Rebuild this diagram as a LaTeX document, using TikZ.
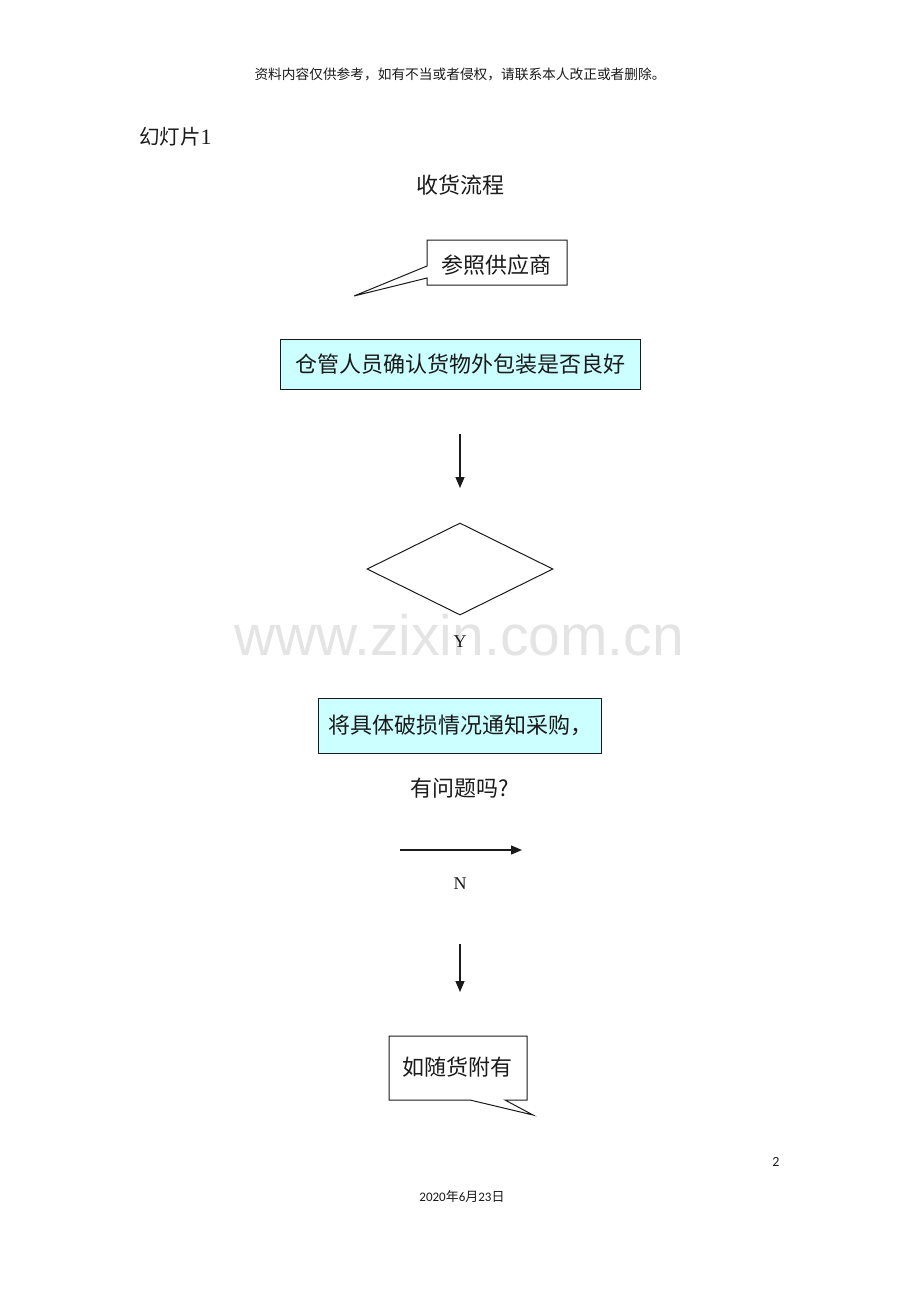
\documentclass[tikz,border=0pt]{standalone}
\usepackage{fontspec}
\setmainfont{Liberation Serif}
\newfontfamily\cjk{Noto Sans CJK SC}
\newfontfamily\wmfont{Liberation Sans}
\newfontfamily\calfont{Carlito}
\usetikzlibrary{shapes.geometric,arrows.meta}
\definecolor{boxcyan}{HTML}{CCFFFF}
\definecolor{wmgray}{HTML}{E4E4E4}
\definecolor{txt}{HTML}{1A1A1A}
\tikzset{
  cbox/.style={draw=txt, line width=1pt, fill=boxcyan, inner sep=0pt, text=txt,
     font=\cjk\fontsize{22}{26}\selectfont},
  plain/.style={inner sep=0pt, text=txt},
  arr/.style={line width=1.3pt, draw=txt, -{Triangle[length=11pt,width=9pt]}},
  callout/.style={draw=txt, line width=1pt, fill=white},
  lbl/.style={inner sep=0pt, text=txt, font=\fontsize{18}{20}\selectfont}
}
\begin{document}
\begin{tikzpicture}[x=1pt,y=-1pt]
\useasboundingbox (0,0) rectangle (920,1302);
% watermark
\node[inner sep=0pt, text=wmgray, font=\wmfont\fontsize{57}{60}\selectfont] (wm) at (459,635) {www.zixin.com.cn};
% header
\node[plain, font=\cjk\fontsize{13.7}{16}\selectfont] (hdr) at (460,74) {资料内容仅供参考，如有不当或者侵权，请联系本人改正或者删除。};
\node[plain, anchor=west, font=\cjk\fontsize{20.5}{23}\selectfont] (slide) at (139,137) {幻灯片{\rmfamily\fontsize{22}{24}\selectfont 1}};
\node[plain, font=\cjk\fontsize{22}{26}\selectfont] (title) at (460,185) {收货流程};
% top callout
\draw[callout] (427,240) -- (567,240) -- (567,285) -- (427,285) -- (427,278) -- (354,296) -- (427,266) -- cycle;
\node[plain, font=\cjk\fontsize{22}{26}\selectfont] (ref) at (496,265) {参照供应商};
% first box
\node[cbox, minimum width=360pt, minimum height=50pt] (check) at (460,364) {仓管人员确认货物外包装是否良好};
% arrow 1
\coordinate (a1s) at (460,434);
\coordinate (a1e) at (460,488);
\draw[arr] (a1s) -- (a1e);
% diamond
\node[draw=txt, line width=1pt, diamond, minimum width=186pt, minimum height=92pt, inner sep=0pt] (dec) at (460,569) {};
\node[lbl] (y) at (460,642) {Y};
% second box
\node[cbox, minimum width=283pt, minimum height=55pt] (notify) at (460,725.5) {将具体破损情况通知采购，};
\node[plain, font=\cjk\fontsize{22}{26}\selectfont] (q) at (460,788) {有问题吗?};
% horizontal arrow
\coordinate (a2s) at (400,850);
\coordinate (a2e) at (522,850);
\draw[arr] (a2s) -- (a2e);
\node[lbl] (n) at (460,884) {N};
% arrow 3
\coordinate (a3s) at (460,944);
\coordinate (a3e) at (460,992);
\draw[arr] (a3s) -- (a3e);
% bottom callout
\draw[callout] (389,1036) -- (527,1036) -- (527,1100) -- (505,1100) -- (533,1115) -- (470,1100) -- (389,1100) -- cycle;
\node[plain, font=\cjk\fontsize{22}{26}\selectfont] (att) at (457,1067) {如随货附有};
% footer
\node[plain, font=\calfont\fontsize{14}{16}\selectfont] (pg) at (776,1162) {2};
\node[plain, font=\calfont\fontsize{13}{15}\selectfont] (date) at (462,1197) {2020{\cjk 年}6{\cjk 月}23{\cjk 日}};
\end{tikzpicture}
\end{document}
